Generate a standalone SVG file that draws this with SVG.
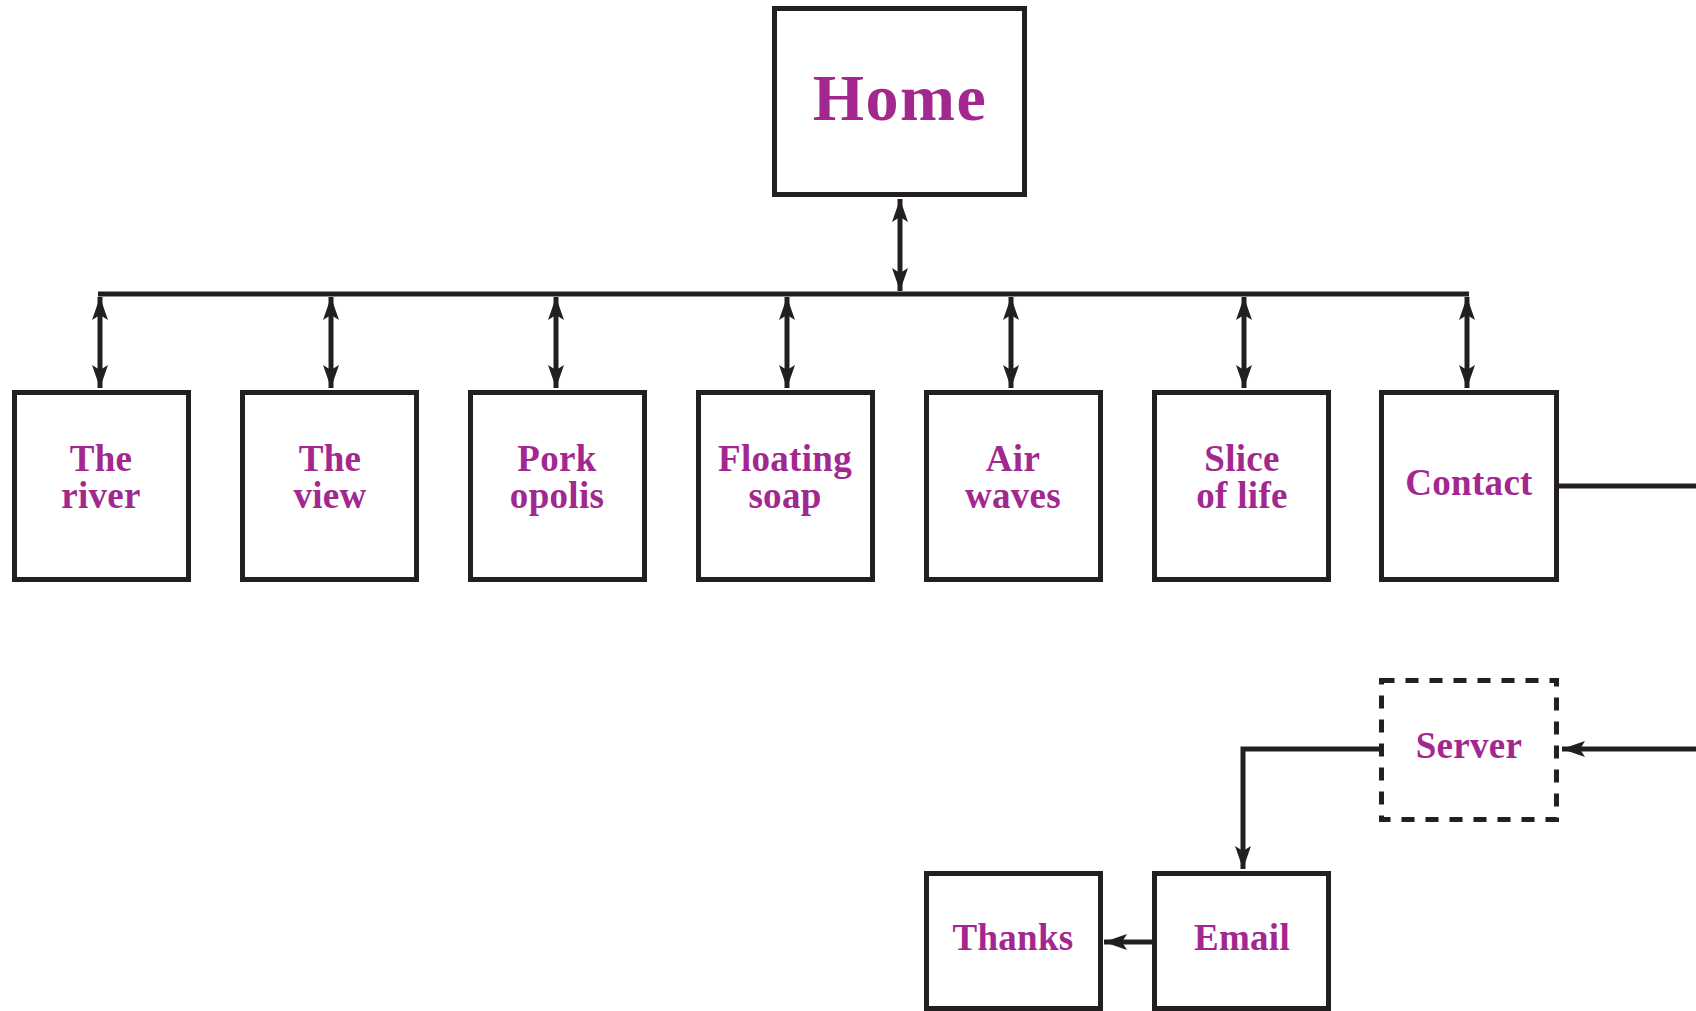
<svg xmlns="http://www.w3.org/2000/svg" width="1696" height="1011" viewBox="0 0 1696 1011">
<style>
.box{fill:#fff;stroke:#231f20;stroke-width:5}
.dash{fill:#fff;stroke:#231f20;stroke-width:5;stroke-dasharray:13 11}
.ln{fill:none;stroke:#231f20;stroke-width:5}
.t{font-family:"Liberation Serif",serif;font-weight:bold;font-size:37px;fill:#a2288f;text-anchor:middle;letter-spacing:0.3px}
.h{font-size:66px;letter-spacing:1.5px}
</style>
<defs>
<marker id="ah" markerUnits="userSpaceOnUse" markerWidth="24" markerHeight="16" refX="23" refY="8" orient="auto-start-reverse" viewBox="0 0 24 16">
<path d="M0,0 L23,8 L0,16 L5,8 z" fill="#231f20"/>
</marker>
</defs>
<rect width="1696" height="1011" fill="#fff"/>
<g id="connectors">
<line class="ln" x1="900" y1="199" x2="900" y2="291" marker-start="url(#ah)" marker-end="url(#ah)"/>
<line class="ln" x1="98" y1="294" x2="1469" y2="294"/>
<line class="ln" x1="100" y1="297" x2="100" y2="388" marker-start="url(#ah)" marker-end="url(#ah)"/>
<line class="ln" x1="331" y1="297" x2="331" y2="388" marker-start="url(#ah)" marker-end="url(#ah)"/>
<line class="ln" x1="556" y1="297" x2="556" y2="388" marker-start="url(#ah)" marker-end="url(#ah)"/>
<line class="ln" x1="787" y1="297" x2="787" y2="388" marker-start="url(#ah)" marker-end="url(#ah)"/>
<line class="ln" x1="1011" y1="297" x2="1011" y2="388" marker-start="url(#ah)" marker-end="url(#ah)"/>
<line class="ln" x1="1244" y1="297" x2="1244" y2="388" marker-start="url(#ah)" marker-end="url(#ah)"/>
<line class="ln" x1="1467" y1="297" x2="1467" y2="388" marker-start="url(#ah)" marker-end="url(#ah)"/>
<line class="ln" x1="1559" y1="486" x2="1696" y2="486"/>
<line class="ln" x1="1696" y1="749" x2="1562" y2="749" marker-end="url(#ah)"/>
<path class="ln" d="M1379,749 H1243 V869" marker-end="url(#ah)"/>
<line class="ln" x1="1152" y1="942" x2="1104" y2="942" marker-end="url(#ah)"/>
</g>
<g id="home"><rect class="box" x="774.5" y="8.5" width="250" height="186"/><text class="t h" x="900" y="120">Home</text></g>
<g id="the-river"><rect class="box" x="14.5" y="392.5" width="174" height="187"/><text class="t" x="101" y="471">The</text><text class="t" x="101" y="508">river</text></g>
<g id="the-view"><rect class="box" x="242.5" y="392.5" width="174" height="187"/><text class="t" x="330" y="471">The</text><text class="t" x="330" y="508">view</text></g>
<g id="pork-opolis"><rect class="box" x="470.5" y="392.5" width="174" height="187"/><text class="t" x="557" y="471">Pork</text><text class="t" x="557" y="508">opolis</text></g>
<g id="floating-soap"><rect class="box" x="698.5" y="392.5" width="174" height="187"/><text class="t" x="785" y="471">Floating</text><text class="t" x="785" y="508">soap</text></g>
<g id="air-waves"><rect class="box" x="926.5" y="392.5" width="174" height="187"/><text class="t" x="1013" y="471">Air</text><text class="t" x="1013" y="508">waves</text></g>
<g id="slice-of-life"><rect class="box" x="1154.5" y="392.5" width="174" height="187"/><text class="t" x="1242" y="471">Slice</text><text class="t" x="1242" y="508">of life</text></g>
<g id="contact"><rect class="box" x="1381.5" y="392.5" width="175" height="187"/><text class="t" x="1469" y="495">Contact</text></g>
<g id="server"><rect class="dash" x="1381.5" y="680.5" width="175" height="139"/><text class="t" x="1469" y="758">Server</text></g>
<g id="thanks"><rect class="box" x="926.5" y="873.5" width="174" height="135"/><text class="t" x="1013" y="950">Thanks</text></g>
<g id="email"><rect class="box" x="1154.5" y="873.5" width="174" height="135"/><text class="t" x="1242" y="950">Email</text></g>
</svg>
